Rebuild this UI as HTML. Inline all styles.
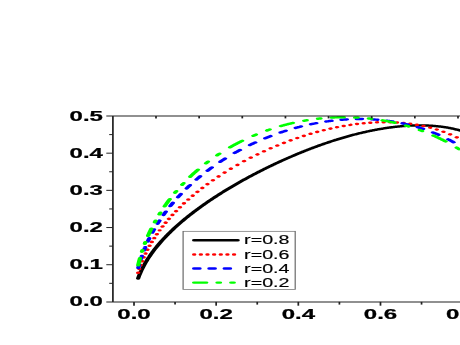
<!DOCTYPE html>
<html><head><meta charset="utf-8"><title>chart</title>
<style>
html,body{margin:0;padding:0;background:#fff;}
body{width:460px;height:345px;overflow:hidden;font-family:"Liberation Sans",sans-serif;}
svg{display:block;}
text{font-family:"Liberation Sans",sans-serif;}
</style></head><body>
<svg width="460" height="345" viewBox="0 0 460 345">
<defs><filter id="bl" x="-5%" y="-5%" width="110%" height="110%"><feGaussianBlur stdDeviation="0.45"/></filter></defs>
<rect width="460" height="345" fill="#fff"/>
<g filter="url(#bl)">
<g transform="scale(1.724 1)">
<g fill="none" stroke-width="2.45" stroke-linejoin="round" stroke-linecap="round">
<path d="M80.11 278.47 L80.30 277.56 L80.49 276.67 L80.68 275.82 L80.87 274.99 L81.06 274.19 L81.26 273.41 L81.45 272.65 L81.64 271.91 L81.83 271.19 L82.02 270.48 L82.21 269.79 L82.40 269.11 L82.59 268.45 L82.78 267.80 L82.98 267.16 L83.17 266.53 L83.36 265.91 L83.55 265.31 L83.74 264.71 L83.93 264.12 L84.12 263.54 L84.31 262.97 L84.50 262.41 L84.70 261.86 L84.89 261.31 L85.08 260.77 L85.27 260.24 L85.46 259.71 L85.65 259.19 L85.84 258.67 L86.03 258.17 L86.22 257.66 L86.42 257.17 L86.61 256.67 L86.80 256.19 L86.99 255.71 L87.18 255.23 L87.37 254.76 L87.56 254.29 L87.75 253.83 L87.94 253.37 L88.14 252.91 L88.33 252.46 L88.52 252.01 L88.71 251.57 L88.90 251.13 L89.09 250.70 L89.28 250.27 L89.47 249.84 L89.70 249.33 L90.20 248.24 L90.69 247.18 L91.19 246.13 L91.69 245.11 L92.18 244.10 L92.68 243.11 L93.17 242.13 L93.67 241.17 L94.16 240.22 L94.66 239.29 L95.16 238.37 L95.65 237.47 L96.15 236.57 L96.64 235.69 L97.14 234.82 L97.64 233.96 L98.13 233.11 L98.63 232.27 L99.12 231.44 L99.62 230.62 L100.11 229.81 L100.61 229.01 L101.11 228.21 L101.60 227.43 L102.10 226.65 L102.59 225.88 L103.09 225.12 L103.58 224.36 L104.08 223.61 L104.58 222.87 L105.07 222.14 L105.57 221.41 L106.06 220.69 L106.56 219.97 L107.06 219.27 L107.55 218.56 L108.05 217.87 L108.54 217.17 L109.04 216.49 L109.53 215.81 L110.03 215.13 L110.53 214.46 L111.02 213.80 L111.52 213.14 L112.01 212.48 L112.51 211.83 L113.00 211.18 L113.50 210.54 L114.00 209.91 L114.49 209.27 L114.99 208.65 L115.48 208.02 L115.98 207.40 L116.48 206.78 L116.97 206.17 L117.47 205.56 L117.96 204.96 L118.46 204.36 L118.95 203.76 L119.45 203.17 L119.95 202.58 L120.44 201.99 L120.94 201.41 L121.43 200.83 L121.93 200.26 L122.42 199.68 L122.92 199.11 L123.42 198.55 L123.91 197.98 L124.41 197.42 L124.90 196.87 L125.40 196.31 L125.90 195.76 L126.39 195.21 L126.89 194.67 L127.38 194.13 L127.88 193.59 L128.37 193.05 L128.87 192.52 L129.37 191.98 L129.86 191.46 L130.36 190.93 L130.85 190.41 L131.35 189.89 L131.84 189.37 L132.34 188.85 L132.84 188.34 L133.33 187.83 L133.83 187.32 L134.32 186.81 L134.82 186.31 L135.32 185.81 L135.81 185.31 L136.31 184.81 L136.80 184.32 L137.30 183.83 L137.79 183.34 L138.29 182.85 L138.79 182.37 L139.28 181.88 L139.78 181.40 L140.27 180.92 L140.77 180.45 L141.26 179.97 L141.76 179.50 L142.26 179.03 L142.75 178.56 L143.25 178.10 L143.74 177.63 L144.24 177.17 L144.74 176.71 L145.23 176.25 L145.73 175.80 L146.22 175.34 L146.72 174.89 L147.21 174.44 L147.71 173.99 L148.21 173.55 L148.70 173.10 L149.20 172.66 L149.69 172.22 L150.19 171.78 L150.69 171.35 L151.18 170.91 L151.68 170.48 L152.17 170.05 L152.67 169.62 L153.16 169.19 L153.66 168.77 L154.16 168.34 L154.65 167.92 L155.15 167.50 L155.64 167.09 L156.14 166.67 L156.63 166.26 L157.13 165.84 L157.63 165.43 L158.12 165.03 L158.62 164.62 L159.11 164.21 L159.61 163.81 L160.11 163.41 L160.60 163.01 L161.10 162.61 L161.59 162.22 L162.09 161.82 L162.58 161.43 L163.08 161.04 L163.58 160.65 L164.07 160.26 L164.57 159.88 L165.06 159.50 L165.56 159.11 L166.05 158.73 L166.55 158.36 L167.05 157.98 L167.54 157.61 L168.04 157.23 L168.53 156.86 L169.03 156.49 L169.53 156.13 L170.02 155.76 L170.52 155.40 L171.01 155.04 L171.51 154.68 L172.00 154.32 L172.50 153.96 L173.00 153.61 L173.49 153.26 L173.99 152.91 L174.48 152.56 L174.98 152.21 L175.47 151.87 L175.97 151.52 L176.47 151.18 L176.96 150.84 L177.46 150.50 L177.95 150.17 L178.45 149.83 L178.95 149.50 L179.44 149.17 L179.94 148.84 L180.43 148.52 L180.93 148.19 L181.42 147.87 L181.92 147.55 L182.42 147.23 L182.91 146.91 L183.41 146.60 L183.90 146.28 L184.40 145.97 L184.89 145.66 L185.39 145.36 L185.89 145.05 L186.38 144.75 L186.88 144.45 L187.37 144.15 L187.87 143.85 L188.37 143.55 L188.86 143.26 L189.36 142.97 L189.85 142.68 L190.35 142.39 L190.84 142.11 L191.34 141.82 L191.84 141.54 L192.33 141.26 L192.83 140.98 L193.32 140.71 L193.82 140.44 L194.31 140.16 L194.81 139.89 L195.31 139.63 L195.80 139.36 L196.30 139.10 L196.79 138.84 L197.29 138.58 L197.79 138.32 L198.28 138.07 L198.78 137.82 L199.27 137.57 L199.77 137.32 L200.26 137.07 L200.76 136.83 L201.26 136.59 L201.75 136.35 L202.25 136.11 L202.74 135.88 L203.24 135.64 L203.73 135.41 L204.23 135.18 L204.73 134.96 L205.22 134.74 L205.72 134.51 L206.21 134.29 L206.71 134.08 L207.21 133.86 L207.70 133.65 L208.20 133.44 L208.69 133.23 L209.19 133.03 L209.68 132.83 L210.18 132.63 L210.68 132.43 L211.17 132.23 L211.67 132.04 L212.16 131.85 L212.66 131.66 L213.16 131.47 L213.65 131.29 L214.15 131.11 L214.64 130.93 L215.14 130.75 L215.63 130.58 L216.13 130.41 L216.63 130.24 L217.12 130.08 L217.62 129.91 L218.11 129.75 L218.61 129.59 L219.10 129.44 L219.60 129.29 L220.10 129.13 L220.59 128.99 L221.09 128.84 L221.58 128.70 L222.08 128.56 L222.58 128.42 L223.07 128.29 L223.57 128.16 L224.06 128.03 L224.56 127.90 L225.05 127.78 L225.55 127.66 L226.05 127.54 L226.54 127.43 L227.04 127.32 L227.53 127.21 L228.03 127.10 L228.52 127.00 L229.02 126.90 L229.52 126.80 L230.01 126.71 L230.51 126.62 L231.00 126.53 L231.50 126.44 L232.00 126.36 L232.49 126.28 L232.99 126.21 L233.48 126.14 L233.98 126.07 L234.47 126.00 L234.97 125.94 L235.47 125.88 L235.96 125.82 L236.46 125.77 L236.95 125.72 L237.45 125.67 L237.94 125.63 L238.44 125.59 L238.94 125.56 L239.43 125.52 L239.93 125.49 L240.42 125.47 L240.92 125.45 L241.42 125.43 L241.91 125.41 L242.41 125.40 L242.90 125.40 L243.40 125.39 L243.89 125.39 L244.39 125.40 L244.89 125.41 L245.38 125.42 L245.88 125.43 L246.37 125.45 L246.87 125.48 L247.36 125.51 L247.86 125.54 L248.36 125.57 L248.85 125.61 L249.35 125.66 L249.84 125.71 L250.34 125.76 L250.84 125.82 L251.33 125.88 L251.83 125.95 L252.32 126.02 L252.82 126.10 L253.31 126.18 L253.81 126.26 L254.31 126.36 L254.80 126.45 L255.30 126.55 L255.79 126.66 L256.29 126.77 L256.78 126.88 L257.28 127.00 L257.78 127.13 L258.27 127.26 L258.77 127.40 L259.26 127.54 L259.76 127.69 L260.26 127.84 L260.75 128.00 L261.25 128.17 L261.74 128.34 L262.24 128.52 L262.73 128.70 L263.23 128.89 L263.73 129.09 L264.22 129.29 L264.72 129.50 L265.21 129.72 L265.71 129.94 L266.21 130.17 L266.70 130.41 L267.20 130.65 L267.69 130.90 L268.19 131.16 L268.68 131.43 L269.18 131.70 L269.68 131.98 L270.17 132.27 L270.67 132.57 L271.16 132.88 L271.66 133.19 L272.15 133.51 L272.65 133.85 L273.15 134.19 L273.64 134.54 L274.14 134.89 L274.63 135.26 L275.13 135.64" stroke="#000"/>
<path d="M80.11 272.82 L80.13 272.72M80.79 268.97 L80.80 268.91 L80.81 268.87M81.56 265.11 L81.57 265.09 L81.58 265.01M82.42 261.26 L82.43 261.22 L82.44 261.16M83.37 257.40 L83.38 257.34 L83.39 257.30M84.40 253.55 L84.41 253.52 L84.43 253.45M85.53 249.69 L85.53 249.68 L85.56 249.59M86.75 245.84 L86.75 245.83 L86.78 245.74M88.06 241.98 L88.06 241.97 L88.10 241.88M89.47 238.13 L89.47 238.11 L89.51 238.03M90.97 234.27 L91.00 234.19 L91.01 234.17M92.59 230.37h0.01M94.27 226.56 L94.29 226.52 L94.32 226.46M96.07 222.71 L96.09 222.68 L96.12 222.61M97.98 218.85 L98.01 218.79 L98.03 218.75M99.99 215.00 L99.99 214.99 L100.04 214.90M102.11 211.14 L102.16 211.05 L102.17 211.04M104.34 207.29 L104.39 207.20 L104.40 207.19M106.69 203.43 L106.75 203.34 L106.75 203.33M109.16 199.58 L109.16 199.57 L109.22 199.48M111.75 195.72 L111.77 195.69 L111.81 195.62M114.46 191.87 L114.49 191.83 L114.54 191.77M117.31 188.01 L117.34 187.97 L117.39 187.91M120.31 184.16 L120.32 184.14 L120.39 184.06M123.45 180.30 L123.48 180.26 L123.53 180.20M126.74 176.45 L126.76 176.42 L126.83 176.35M130.21 172.59 L130.23 172.56 L130.30 172.49M133.85 168.74 L133.89 168.69 L133.94 168.64M137.67 164.90 L137.67 164.89 L137.77 164.80M141.52 161.22 L141.57 161.17 L141.62 161.13M145.38 157.74 L145.42 157.70 L145.48 157.65M149.23 154.43 L149.26 154.41 L149.33 154.35M153.09 151.29 L153.10 151.28 L153.19 151.21M156.94 148.32 L156.94 148.32 L157.04 148.25M160.80 145.51 L160.85 145.48 L160.90 145.44M164.65 142.86 L164.69 142.84 L164.75 142.80M168.51 140.37 L168.53 140.35 L168.61 140.31M172.36 138.03 L172.38 138.02 L172.46 137.97M176.22 135.84 L176.22 135.84 L176.32 135.78M180.07 133.80 L180.12 133.77 L180.17 133.75M183.93 131.92 L183.97 131.90 L184.03 131.87M187.78 130.19 L187.81 130.18 L187.88 130.15M191.64 128.62 L191.65 128.61 L191.74 128.58M195.49 127.21 L195.49 127.21 L195.59 127.17M199.35 125.96 L199.40 125.94 L199.45 125.93M203.20 124.88 L203.24 124.87 L203.30 124.85M207.06 123.97 L207.08 123.96 L207.16 123.95M210.91 123.24 L210.92 123.24 L211.01 123.22M214.77 122.69 L214.83 122.68 L214.87 122.68M218.62 122.34 L218.67 122.33 L218.72 122.33M222.48 122.18 L222.51 122.18 L222.58 122.18M226.33 122.23 L226.36 122.23 L226.43 122.24M230.19 122.50 L230.20 122.50 L230.29 122.51M234.04 123.00 L234.10 123.01 L234.14 123.02M237.90 123.75 L237.94 123.76 L238.00 123.77M241.75 124.75 L241.79 124.76 L241.85 124.78M245.61 126.03 L245.63 126.04 L245.71 126.06M249.46 127.60 L249.47 127.60 L249.56 127.64M253.32 129.48 L253.38 129.51 L253.42 129.53M257.17 131.70 L257.22 131.73 L257.27 131.76M261.03 134.28 L261.06 134.31 L261.13 134.36M264.88 137.27 L264.90 137.29 L264.98 137.35M268.74 140.69 L268.75 140.70 L268.84 140.78M272.51 144.50 L272.53 144.52 L272.60 144.60" stroke="#ff0000"/>
<path d="M80.18 268.00 L80.20 267.85 L80.35 266.89 L80.49 265.96 L80.63 265.06 L80.67 264.82M81.66 259.15 L81.66 259.15 L81.81 258.39 L81.95 257.64 L82.09 256.91 L82.24 256.19 L82.28 255.97M83.50 250.30 L83.53 250.20 L83.67 249.58 L83.81 248.97 L83.96 248.36 L84.10 247.77 L84.24 247.18 L84.25 247.12M85.72 241.45 L85.72 241.44 L85.87 240.92 L86.01 240.40 L86.15 239.89 L86.30 239.38 L86.44 238.87 L86.58 238.38 L86.61 238.27M88.33 232.60 L88.35 232.54 L88.49 232.10 L88.64 231.65 L88.78 231.21 L88.92 230.77 L89.07 230.33 L89.21 229.90 L89.35 229.47 L89.37 229.42M91.36 223.75 L91.38 223.71 L91.75 222.70 L92.12 221.71 L92.49 220.73 L92.55 220.57M94.83 214.90 L94.85 214.86 L95.22 213.97 L95.59 213.10 L95.96 212.24 L96.19 211.72M98.77 206.05 L98.81 205.96 L99.18 205.18 L99.56 204.41 L99.93 203.65 L100.30 202.89 L100.31 202.87M103.23 197.20 L103.27 197.12 L103.65 196.43 L104.02 195.74 L104.39 195.07 L104.76 194.40 L104.97 194.02M108.26 188.35 L108.29 188.30 L108.67 187.69 L109.04 187.08 L109.41 186.48 L109.78 185.88 L110.15 185.29 L110.22 185.17M113.94 179.50 L114.00 179.42 L114.37 178.88 L114.74 178.34 L115.11 177.81 L115.48 177.28 L115.86 176.75 L116.16 176.32M120.36 170.65 L120.38 170.64 L120.75 170.16 L121.12 169.68 L121.50 169.21 L121.87 168.74 L122.24 168.27 L122.61 167.81 L122.88 167.47M127.68 161.80 L127.69 161.79 L128.06 161.37 L128.44 160.95 L128.81 160.54 L129.18 160.13 L129.55 159.72 L129.92 159.32 L130.30 158.91 L130.56 158.62M136.09 152.97 L136.12 152.94 L136.49 152.58 L136.86 152.22 L137.24 151.87 L137.61 151.52 L137.98 151.16 L138.35 150.82 L138.72 150.47 L139.10 150.12 L139.27 149.97M144.94 145.01 L144.98 144.97 L145.36 144.66 L145.73 144.36 L146.10 144.05 L146.47 143.75 L146.84 143.45 L147.21 143.16 L147.59 142.86 L147.96 142.57 L148.12 142.44M153.79 138.24 L153.85 138.20 L154.22 137.94 L154.59 137.68 L154.96 137.42 L155.33 137.17 L155.70 136.92 L156.08 136.67 L156.45 136.42 L156.82 136.17 L156.97 136.07M162.64 132.55 L162.65 132.55 L163.02 132.33 L163.39 132.12 L163.76 131.91 L164.13 131.70 L164.51 131.49 L164.88 131.28 L165.25 131.07 L165.62 130.87 L165.82 130.76M171.49 127.89 L171.51 127.88 L171.88 127.71 L172.25 127.54 L172.62 127.37 L173.00 127.20 L173.37 127.03 L173.74 126.87 L174.11 126.70 L174.48 126.54 L174.67 126.46M180.34 124.22 L180.37 124.21 L180.74 124.08 L181.11 123.94 L181.49 123.82 L181.86 123.69 L182.23 123.56 L182.60 123.44 L182.97 123.31 L183.35 123.19 L183.52 123.14M189.19 121.52 L189.23 121.51 L189.60 121.41 L189.98 121.32 L190.35 121.24 L190.72 121.15 L191.09 121.06 L191.46 120.98 L191.84 120.90 L192.21 120.82 L192.37 120.78M198.04 119.79 L198.10 119.78 L198.47 119.73 L198.84 119.68 L199.21 119.63 L199.58 119.59 L199.95 119.55 L200.33 119.50 L200.70 119.46 L201.07 119.43 L201.22 119.41M206.89 119.06 L206.90 119.06 L207.27 119.05 L207.64 119.04 L208.01 119.04 L208.38 119.04 L208.75 119.04 L209.13 119.04 L209.50 119.04 L209.87 119.04 L210.07 119.05M215.74 119.36 L215.76 119.37 L216.13 119.40 L216.50 119.44 L216.87 119.48 L217.25 119.52 L217.62 119.57 L217.99 119.61 L218.36 119.66 L218.73 119.71 L218.92 119.74M224.59 120.76 L224.62 120.77 L224.99 120.86 L225.36 120.94 L225.74 121.03 L226.11 121.12 L226.48 121.21 L226.85 121.31 L227.22 121.40 L227.60 121.50 L227.77 121.55M233.44 123.34 L233.48 123.35 L233.85 123.49 L234.23 123.63 L234.60 123.77 L234.97 123.91 L235.34 124.05 L235.71 124.20 L236.09 124.35 L236.46 124.50 L236.62 124.57M242.29 127.19 L242.34 127.22 L242.72 127.41 L243.09 127.61 L243.46 127.80 L243.83 128.00 L244.20 128.21 L244.58 128.41 L244.95 128.62 L245.32 128.83 L245.47 128.91M251.14 132.46 L251.15 132.47 L251.52 132.72 L251.89 132.98 L252.26 133.24 L252.63 133.51 L253.00 133.77 L253.38 134.04 L253.75 134.32 L254.12 134.59 L254.32 134.74M259.99 139.35 L260.01 139.37 L260.38 139.70 L260.75 140.03 L261.12 140.37 L261.49 140.70 L261.87 141.05 L262.24 141.39 L262.61 141.74 L262.98 142.09 L263.17 142.27M268.64 147.91 L268.68 147.96 L269.06 148.37 L269.43 148.79 L269.80 149.21 L270.17 149.64 L270.54 150.07 L270.92 150.50 L271.29 150.94 L271.41 151.09" stroke="#0000ff"/>
<path d="M80.16 265.24 L80.16 265.24 L80.30 264.19 L80.44 263.17 L80.59 262.18 L80.73 261.21 L80.87 260.27 L81.02 259.35 L81.16 258.45 L81.21 258.16M82.34 251.71 L82.35 251.61 L82.50 250.86 L82.63 250.18M83.97 243.73 L83.98 243.68 L84.12 243.03 L84.27 242.40 L84.31 242.20M85.87 235.75 L85.89 235.66 L86.03 235.11 L86.18 234.55 L86.32 234.01 L86.46 233.47 L86.61 232.93 L86.75 232.40 L86.89 231.87 L87.04 231.35 L87.18 230.83 L87.32 230.32 L87.47 229.81 L87.61 229.30 L87.75 228.80 L87.79 228.67M89.75 222.22 L89.76 222.16 L90.14 221.01 L90.24 220.69M92.45 214.24 L92.49 214.13 L92.86 213.10 L93.01 212.71M95.49 206.26 L95.53 206.17 L95.90 205.26 L96.27 204.35 L96.64 203.46 L97.02 202.58 L97.39 201.71 L97.76 200.86 L98.13 200.01 L98.50 199.18M101.51 192.73 L101.54 192.67 L101.91 191.91 L102.26 191.20M105.63 184.75 L105.69 184.65 L106.06 183.97 L106.44 183.30 L106.48 183.22M110.26 176.77 L110.28 176.74 L110.65 176.13 L111.02 175.54 L111.39 174.94 L111.77 174.36 L112.14 173.77 L112.51 173.20 L112.88 172.62 L113.25 172.06 L113.62 171.49 L114.00 170.94 L114.37 170.38 L114.74 169.83 L114.84 169.69M119.47 163.24 L119.51 163.19 L119.88 162.70 L120.26 162.21 L120.63 161.73 L120.64 161.71M125.93 155.26 L125.96 155.23 L126.33 154.81 L126.70 154.38 L127.07 153.96 L127.28 153.73M133.41 147.29 L133.46 147.24 L133.83 146.88 L134.20 146.52 L134.57 146.16 L134.94 145.80 L135.32 145.45 L135.69 145.10 L136.06 144.75 L136.43 144.41 L136.80 144.07 L137.17 143.73 L137.55 143.39 L137.92 143.06 L138.29 142.72 L138.66 142.40 L139.03 142.07 L139.41 141.75 L139.78 141.42 L140.15 141.11 L140.49 140.82M146.94 135.73 L146.97 135.71 L147.34 135.44 L147.71 135.17 L148.08 134.90 L148.45 134.64 L148.47 134.63M154.92 130.40 L154.96 130.37 L155.33 130.15 L155.70 129.93 L156.08 129.71 L156.45 129.49 L156.45 129.49M162.90 126.04 L162.96 126.01 L163.33 125.83 L163.70 125.66 L164.07 125.48 L164.44 125.31 L164.82 125.13 L165.19 124.96 L165.56 124.80 L165.93 124.63 L166.30 124.47 L166.67 124.30 L167.05 124.14 L167.42 123.98 L167.79 123.83 L168.16 123.67 L168.53 123.52 L168.91 123.37 L169.28 123.22 L169.65 123.07 L169.98 122.94M176.43 120.72 L176.47 120.71 L176.84 120.60 L177.21 120.49 L177.58 120.38 L177.95 120.27 L177.96 120.27M184.41 118.72 L184.46 118.71 L184.83 118.64 L185.20 118.57 L185.58 118.50 L185.94 118.44M192.39 117.55 L192.39 117.55 L192.77 117.52 L193.14 117.49 L193.51 117.45 L193.88 117.42 L194.25 117.40 L194.62 117.37 L195.00 117.35 L195.37 117.33 L195.74 117.30 L196.11 117.29 L196.48 117.27 L196.86 117.25 L197.23 117.24 L197.60 117.23 L197.97 117.22 L198.34 117.21 L198.72 117.20 L199.09 117.20 L199.46 117.20 L199.47 117.20M205.92 117.43 L205.97 117.43 L206.34 117.46 L206.71 117.49 L207.08 117.53 L207.45 117.56M213.90 118.47 L213.96 118.48 L214.33 118.55 L214.70 118.62 L215.08 118.69 L215.43 118.76M221.88 120.35 L221.89 120.36 L222.27 120.47 L222.64 120.58 L223.01 120.69 L223.38 120.81 L223.75 120.92 L224.12 121.04 L224.50 121.16 L224.87 121.29 L225.24 121.41 L225.61 121.54 L225.98 121.67 L226.36 121.80 L226.73 121.93 L227.10 122.07 L227.47 122.20 L227.84 122.34 L228.21 122.48 L228.59 122.63 L228.96 122.77 L228.96 122.77M235.41 125.61 L235.47 125.64 L235.84 125.82 L236.21 126.01 L236.58 126.20 L236.94 126.38M243.39 130.03 L243.40 130.03 L243.77 130.26 L244.14 130.50 L244.51 130.73 L244.89 130.97 L244.92 130.99M251.37 135.53 L251.39 135.54 L251.77 135.83 L252.14 136.12 L252.51 136.41 L252.88 136.70 L253.25 136.99 L253.62 137.29 L254.00 137.59 L254.37 137.90 L254.74 138.20 L255.11 138.51 L255.48 138.83 L255.86 139.14 L256.23 139.46 L256.60 139.78 L256.97 140.10 L257.34 140.43 L257.71 140.76 L258.09 141.09 L258.45 141.42M264.85 147.66 L264.90 147.72 L265.28 148.11 L265.65 148.50 L266.02 148.90 L266.28 149.19M271.85 155.64 L271.91 155.71 L272.28 156.17 L272.65 156.64 L273.02 157.11 L273.07 157.17" stroke="#00ff00"/>
</g>
<g stroke="#222" stroke-width="1.0" fill="none">
<line x1="65.49" y1="116" x2="65.49" y2="301.9"/>
<line x1="61.66" y1="116" x2="272.62" y2="116"/>
<line x1="61.66" y1="301.9" x2="272.62" y2="301.9"/>
<line x1="61.66" y1="264.72" x2="65.49" y2="264.72"/>
<line x1="61.66" y1="227.54" x2="65.49" y2="227.54"/>
<line x1="61.66" y1="190.36" x2="65.49" y2="190.36"/>
<line x1="61.66" y1="153.18" x2="65.49" y2="153.18"/>
<line x1="63.34" y1="283.31" x2="65.49" y2="283.31"/>
<line x1="63.34" y1="246.13" x2="65.49" y2="246.13"/>
<line x1="63.34" y1="208.95" x2="65.49" y2="208.95"/>
<line x1="63.34" y1="171.77" x2="65.49" y2="171.77"/>
<line x1="63.34" y1="134.59" x2="65.49" y2="134.59"/>
<line x1="77.73" y1="301.9" x2="77.73" y2="305.7"/>
<line x1="101.55" y1="301.9" x2="101.55" y2="304.59999999999997"/>
<line x1="125.38" y1="301.9" x2="125.38" y2="305.7"/>
<line x1="149.21" y1="301.9" x2="149.21" y2="304.59999999999997"/>
<line x1="173.04" y1="301.9" x2="173.04" y2="305.7"/>
<line x1="196.87" y1="301.9" x2="196.87" y2="304.59999999999997"/>
<line x1="220.70" y1="301.9" x2="220.70" y2="305.7"/>
<line x1="244.52" y1="301.9" x2="244.52" y2="304.59999999999997"/>
<line x1="268.35" y1="301.9" x2="268.35" y2="305.7"/>
<line x1="90.49" y1="116" x2="90.49" y2="118.4"/>
<line x1="115.51" y1="116" x2="115.51" y2="118.4"/>
<line x1="140.53" y1="116" x2="140.53" y2="118.4"/>
<line x1="165.56" y1="116" x2="165.56" y2="118.4"/>
<line x1="190.58" y1="116" x2="190.58" y2="118.4"/>
<line x1="215.60" y1="116" x2="215.60" y2="118.4"/>
<line x1="240.63" y1="116" x2="240.63" y2="118.4"/>
<line x1="265.65" y1="116" x2="265.65" y2="118.4"/>
</g>
<rect x="106.21" y="231.3" width="65.02" height="58.3" fill="#fff" stroke="#6a6a6a" stroke-width="0.7"/>
<g fill="none" stroke-width="2.45" stroke-linecap="round">
<line x1="112.59" y1="240.3" x2="137.87" y2="240.3" stroke="#000"/>
<line x1="112.59" y1="254.4" x2="137.87" y2="254.4" stroke="#ff0000" stroke-dasharray="0.1 3.755"/>
<line x1="112.59" y1="268.4" x2="137.87" y2="268.4" stroke="#0000ff" stroke-dasharray="3.18 5.67"/>
<line x1="112.59" y1="282.6" x2="137.87" y2="282.6" stroke="#00ff00" stroke-dasharray="7.08 6.45 1.53 6.45 1.53 6.45"/>
</g>
</g>
<text transform="translate(102.9 306.4) scale(1.645 1)" font-size="14.6" font-weight="bold" text-anchor="end" fill="#000" stroke="#000" stroke-width="0.25">0.0</text>
<text transform="translate(102.9 269.22) scale(1.645 1)" font-size="14.6" font-weight="bold" text-anchor="end" fill="#000" stroke="#000" stroke-width="0.25">0.1</text>
<text transform="translate(102.9 232.04) scale(1.645 1)" font-size="14.6" font-weight="bold" text-anchor="end" fill="#000" stroke="#000" stroke-width="0.25">0.2</text>
<text transform="translate(102.9 194.86) scale(1.645 1)" font-size="14.6" font-weight="bold" text-anchor="end" fill="#000" stroke="#000" stroke-width="0.25">0.3</text>
<text transform="translate(102.9 157.68) scale(1.645 1)" font-size="14.6" font-weight="bold" text-anchor="end" fill="#000" stroke="#000" stroke-width="0.25">0.4</text>
<text transform="translate(102.9 120.5) scale(1.645 1)" font-size="14.6" font-weight="bold" text-anchor="end" fill="#000" stroke="#000" stroke-width="0.25">0.5</text>
<text transform="translate(134.0 318.75) scale(1.645 1)" font-size="14.6" font-weight="bold" text-anchor="middle" fill="#000" stroke="#000" stroke-width="0.25">0.0</text>
<text transform="translate(216.16 318.75) scale(1.645 1)" font-size="14.6" font-weight="bold" text-anchor="middle" fill="#000" stroke="#000" stroke-width="0.25">0.2</text>
<text transform="translate(298.32 318.75) scale(1.645 1)" font-size="14.6" font-weight="bold" text-anchor="middle" fill="#000" stroke="#000" stroke-width="0.25">0.4</text>
<text transform="translate(380.48 318.75) scale(1.645 1)" font-size="14.6" font-weight="bold" text-anchor="middle" fill="#000" stroke="#000" stroke-width="0.25">0.6</text>
<text transform="translate(462.64 318.75) scale(1.645 1)" font-size="14.6" font-weight="bold" text-anchor="middle" fill="#000" stroke="#000" stroke-width="0.25">0.8</text>
<text transform="translate(244.1 244.3) scale(1.64 1)" font-size="12.0" font-weight="normal" text-anchor="start" fill="#000" stroke="#000" stroke-width="0.15">r=0.8</text>
<text transform="translate(244.1 258.5) scale(1.64 1)" font-size="12.0" font-weight="normal" text-anchor="start" fill="#000" stroke="#000" stroke-width="0.15">r=0.6</text>
<text transform="translate(244.1 272.7) scale(1.64 1)" font-size="12.0" font-weight="normal" text-anchor="start" fill="#000" stroke="#000" stroke-width="0.15">r=0.4</text>
<text transform="translate(244.1 286.95) scale(1.64 1)" font-size="12.0" font-weight="normal" text-anchor="start" fill="#000" stroke="#000" stroke-width="0.15">r=0.2</text>
</g></svg></body></html>
